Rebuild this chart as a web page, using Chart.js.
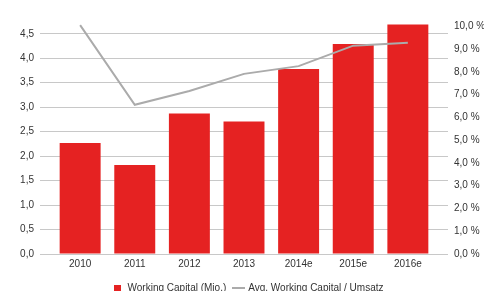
<!DOCTYPE html>
<html>
<head>
<meta charset="utf-8">
<script src="https://cdn.jsdelivr.net/npm/chart.js@4/dist/chart.umd.min.js"></script>
<style>
  html, body { margin: 0; padding: 0; background: #fff; }
  #wrap { width: 484px; height: 291px; }
</style>
</head>
<body>
<div id="wrap"><canvas id="chart"></canvas></div>
<script>
const years = ['2010', '2011', '2012', '2013', '2014e', '2015e', '2016e'];
const workingCapital = [2.27, 1.82, 2.87, 2.71, 3.78, 4.29, 4.69];
const avgWcRatio = [10.05, 6.55, 7.16, 7.91, 8.25, 9.15, 9.28];

const wcLabel = 'Working Capital (Mio.)';
const ratioLabel = 'Avg. Working Capital / Umsatz';

const fmt = v => v.toFixed(1).replace('.', ',');

// small legend markers: red square, grey line
function marker(w, h, color) {
    const c = document.createElement('canvas');
    c.width = w;
    c.height = h;
    const g = c.getContext('2d');
    g.fillStyle = color;
    g.fillRect(0, 0, w, h);
    return c;
}
const squareMark = marker(7, 7, '#e52222');
const lineMark = marker(13, 2, '#ababab');

Chart.defaults.font.family = '"Liberation Sans", Arial, sans-serif';
Chart.defaults.font.size = 10;
Chart.defaults.color = '#333';

new Chart(document.getElementById('chart'), {
    type: 'bar',
    data: {
        datasets: [{
            type: 'bar',
            label: wcLabel,
            data: years.map((y, i) => ({ x: i, y: workingCapital[i] })),
            backgroundColor: '#e52222',
            categoryPercentage: 0.75,
            barPercentage: 1,
            yAxisID: 'y',
            order: 2
        }, {
            type: 'line',
            label: ratioLabel,
            data: years.map((y, i) => ({ x: i, y: avgWcRatio[i] })),
            borderColor: '#ababab',
            backgroundColor: '#ababab',
            borderWidth: 2,
            pointRadius: 0,
            tension: 0,
            yAxisID: 'y1',
            order: 1
        }]
    },
    options: {
        responsive: true,
        maintainAspectRatio: false,
        animation: false,
        layout: {
            padding: { left: 12, top: 24, right: 0, bottom: -12 }
        },
        scales: {
            x: {
                type: 'linear',
                offset: false,
                min: -0.735,
                max: 6.735,
                grid: { display: false, drawTicks: false },
                border: { display: false },
                ticks: {
                    stepSize: 1,
                    includeBounds: false,
                    maxRotation: 0,
                    autoSkip: false,
                    padding: 4,
                    callback: v => Number.isInteger(v) ? (years[v] || '') : ''
                },
                afterFit: s => { s.height = 22; }
            },
            y: {
                position: 'left',
                min: 0,
                max: 4.7,
                grid: { color: '#c8c8c8', drawTicks: false },
                border: { display: false },
                ticks: {
                    stepSize: 0.5,
                    includeBounds: false,
                    padding: 6,
                    callback: v => fmt(v)
                },
                afterFit: s => { s.width = 28; }
            },
            y1: {
                position: 'right',
                min: 0,
                max: 10.1,
                grid: { display: false, drawTicks: false },
                border: { display: false },
                ticks: {
                    stepSize: 1,
                    includeBounds: false,
                    padding: 6,
                    callback: v => fmt(v) + ' %'
                },
                afterFit: s => { s.width = 36; }
            }
        },
        plugins: {
            legend: {
                position: 'bottom',
                labels: {
                    usePointStyle: true,
                    boxWidth: 10,
                    boxHeight: 10,
                    padding: 7,
                    sort: (a, b) => a.datasetIndex - b.datasetIndex,
                    generateLabels: function(chart) {
                        const items = Chart.defaults.plugins.legend.labels.generateLabels(chart);
                        items.forEach(item => {
                            item.pointStyle = item.datasetIndex === 0 ? squareMark : lineMark;
                        });
                        return items;
                    }
                }
            },
            tooltip: { enabled: false }
        }
    }
});
</script>
</body>
</html>
